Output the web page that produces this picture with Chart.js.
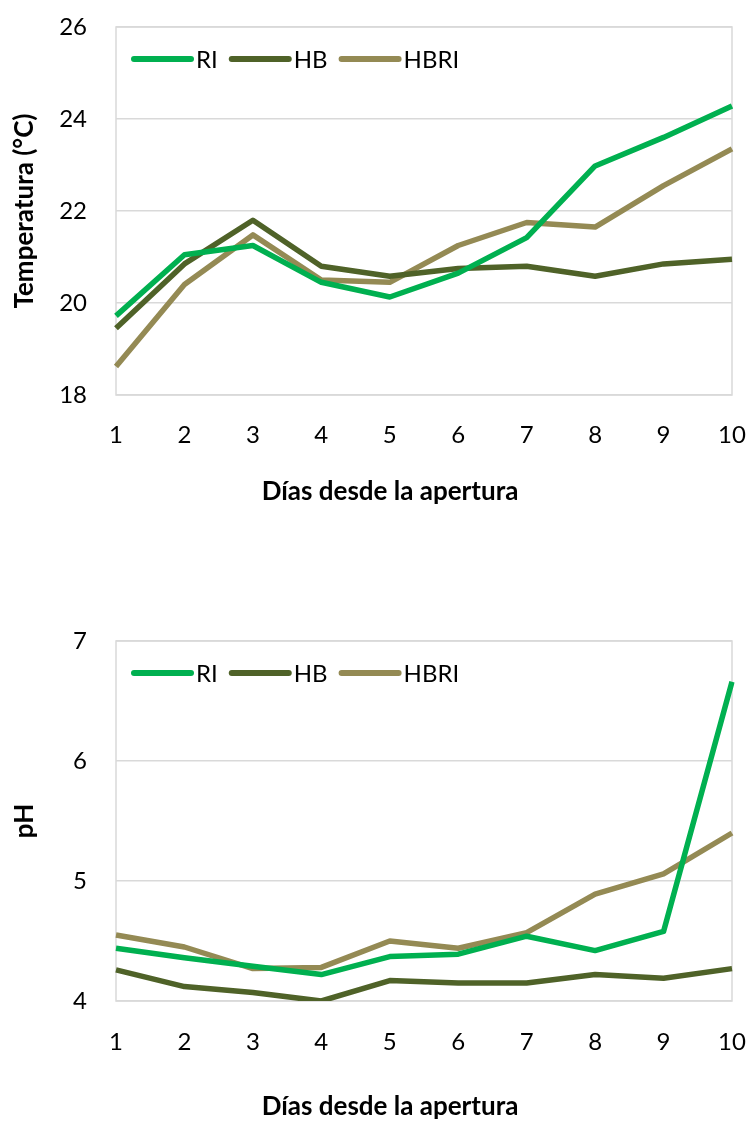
<!DOCTYPE html>
<html lang="es">
<head>
<meta charset="utf-8">
<title>Temperatura y pH</title>
<script src="https://cdn.jsdelivr.net/npm/chart.js@4.4.1/dist/chart.umd.min.js"></script>
<style>
    html, body { margin: 0; padding: 0; background: #fff; }
    #wrap { position: relative; width: 753px; height: 1122px; }
    .box { position: absolute; left: 0; width: 753px; }
    #tempBox { top: 0; height: 530px; }
    #phBox { top: 530px; height: 592px; }
</style>
</head>
<body>
<div id="wrap">
    <div class="box" id="tempBox"><canvas id="tempChart"></canvas></div>
    <div class="box" id="phBox"><canvas id="phChart"></canvas></div>
</div>
<script>
const days = ['1', '2', '3', '4', '5', '6', '7', '8', '9', '10'];
const seriesNames = ['RI', 'HB', 'HBRI'];
const seriesColors = ['#00b050', '#4f6228', '#948a54'];
const xTitle = 'Días desde la apertura';

// temperatura diaria (°C)
const tempRI   = [19.72, 21.05, 21.25, 20.45, 20.13, 20.65, 21.42, 22.98, 23.6, 24.28];
const tempHB   = [19.45, 20.85, 21.8, 20.8, 20.58, 20.75, 20.8, 20.58, 20.85, 20.95];
const tempHBRI = [18.62, 20.4, 21.48, 20.5, 20.45, 21.25, 21.75, 21.65, 22.55, 23.35];
const tempTicks = [18, 20, 22, 24, 26];

// pH diario
const phRI   = [4.44, 4.36, 4.29, 4.22, 4.37, 4.39, 4.54, 4.42, 4.58, 6.66];
const phHB   = [4.26, 4.12, 4.07, 4.0, 4.17, 4.15, 4.15, 4.22, 4.19, 4.27];
const phHBRI = [4.55, 4.45, 4.27, 4.28, 4.5, 4.44, 4.57, 4.89, 5.06, 5.4];
const phTicks = [4, 5, 6, 7];

const FONT = 'Lato, "Open Sans", sans-serif';

// marco gris alrededor del área de trazado
const frame = {
    id: 'frame',
    beforeDatasetsDraw(chart) {
        const { ctx, chartArea: a } = chart;
        ctx.save();
        ctx.strokeStyle = '#d9d9d9';
        ctx.lineWidth = 1.5;
        ctx.strokeRect(a.left, a.top, a.right - a.left, a.bottom - a.top);
        ctx.restore();
    }
};

// leyenda dentro del área de trazado, arriba a la izquierda
const insideLegend = {
    id: 'insideLegend',
    afterDraw(chart) {
        const { ctx, chartArea: a } = chart;
        let x = a.left + 18;
        const y = a.top + 32;
        ctx.save();
        ctx.font = '24px ' + FONT;
        ctx.textBaseline = 'middle';
        ctx.lineCap = 'round';
        chart.data.datasets.forEach(ds => {
            ctx.strokeStyle = ds.borderColor;
            ctx.lineWidth = 6;
            ctx.beginPath();
            ctx.moveTo(x, y);
            ctx.lineTo(x + 57, y);
            ctx.stroke();
            x += 62;
            ctx.fillStyle = '#000';
            ctx.fillText(ds.label, x, y + 1);
            x += ctx.measureText(ds.label).width + 14;
        });
        ctx.restore();
    }
};

// título del eje X, algo desplazado a la izquierda del centro del área
const bottomTitle = {
    id: 'bottomTitle',
    afterDraw(chart, args, opts) {
        const { ctx } = chart;
        ctx.save();
        ctx.font = 'bold 26px ' + FONT;
        ctx.fillStyle = '#000';
        ctx.textAlign = 'center';
        ctx.textBaseline = 'middle';
        ctx.fillText(opts.text, opts.x, opts.y);
        ctx.restore();
    }
};

function makeDatasets(values) {
    return values.map((v, i) => ({
        label: seriesNames[i],
        data: v,
        borderColor: seriesColors[i],
        backgroundColor: seriesColors[i],
        borderWidth: 5.5,
        borderJoinStyle: 'round',
        pointRadius: 0,
        tension: 0
    }));
}

function buildChart(canvasId, values, ticks, yTitle, opts) {
    const ctx = document.getElementById(canvasId).getContext('2d');
    return new Chart(ctx, {
        type: 'line',
        data: { labels: days, datasets: makeDatasets(values) },
        plugins: [frame, insideLegend, bottomTitle],
        options: {
            responsive: true,
            maintainAspectRatio: false,
            animation: false,
            layout: { padding: { top: opts.top, right: 21, left: 0, bottom: 0 } },
            scales: {
                x: {
                    grid: { display: false },
                    border: { display: false },
                    ticks: {
                        color: '#000',
                        padding: opts.xTickPad,
                        maxRotation: 0,
                        font: { family: FONT, size: 24 }
                    },
                    afterFit(scale) {
                        scale.height = opts.xHeight;
                        scale.paddingLeft = 0;
                        scale.paddingRight = 0;
                    }
                },
                y: {
                    min: ticks[0],
                    max: ticks[ticks.length - 1],
                    afterBuildTicks(scale) { scale.ticks = ticks.map(v => ({ value: v })); },
                    grid: { color: '#d9d9d9', lineWidth: 1.5, drawTicks: false },
                    border: { display: false },
                    ticks: {
                        color: '#000',
                        padding: 29,
                        font: { family: FONT, size: 24 }
                    },
                    title: {
                        display: true,
                        text: yTitle,
                        color: '#000',
                        padding: { top: 9, bottom: 0 },
                        font: { family: FONT, size: 26, weight: 'bold' }
                    },
                    afterFit(scale) {
                        scale.width = 116;
                        scale.paddingTop = 0;
                        scale.paddingBottom = 0;
                    }
                }
            },
            plugins: {
                legend: { display: false },
                tooltip: { enabled: false },
                bottomTitle: { text: xTitle, x: 390, y: opts.titleY }
            }
        }
    });
}

buildChart('tempChart', [tempRI, tempHB, tempHBRI], tempTicks, 'Temperatura (°C)',
    { top: 27, xHeight: 135, xTickPad: 18, titleY: 492 });
buildChart('phChart', [phRI, phHB, phHBRI], phTicks, 'pH',
    { top: 111, xHeight: 121, xTickPad: 19, titleY: 577 });
</script>
</body>
</html>
